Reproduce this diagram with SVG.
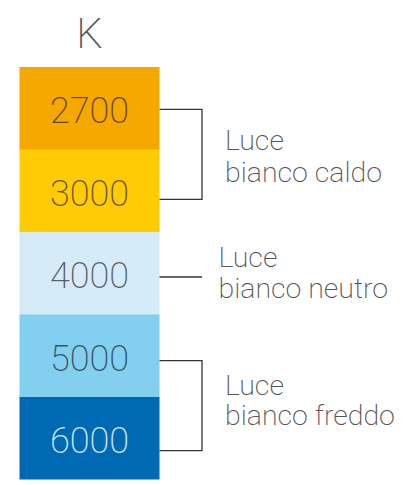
<svg xmlns="http://www.w3.org/2000/svg" width="413" height="485" viewBox="0 0 413 485">
<style>
.num{font-family:Roboto,"Liberation Sans",sans-serif;font-weight:200;font-size:36px;text-anchor:middle;fill:#000;fill-opacity:0.62}
.lbl{font-family:Roboto,"Liberation Sans",sans-serif;font-weight:200;font-size:28.5px;fill:#555}
.con{fill:none;stroke:#333;stroke-width:1.3}
</style>
<rect width="413" height="485" fill="#fff"/>
<text x="89.5" y="48" font-family="Roboto,'Liberation Sans',sans-serif" font-weight="200" font-size="42" text-anchor="middle" fill="#555">K</text>
<g id="n2700"><rect x="19.5" y="67" width="140" height="83" fill="#F5A800"/><text class="num" x="89.5" y="123">2700</text></g>
<g id="n3000"><rect x="19.5" y="149.5" width="140" height="83" fill="#FFCB05"/><text class="num" x="89.5" y="205.5">3000</text></g>
<g id="n4000"><rect x="19.5" y="232" width="140" height="83" fill="#D6EBF8"/><text class="num" x="89.5" y="288">4000</text></g>
<g id="n5000"><rect x="19.5" y="314.5" width="140" height="83" fill="#82CFF0"/><text class="num" x="89.5" y="370.5">5000</text></g>
<g id="n6000"><rect x="19.5" y="397" width="140" height="82.5" fill="#0069B4"/><text class="num" x="89.5" y="453" style="fill:#D2E6F5;fill-opacity:1">6000</text></g>
<g id="connectors">
<path class="con" d="M159.5 109.3H202V199.3H159.5"/>
<path class="con" d="M159.5 277H202"/>
<path class="con" d="M159.5 360.7H202V450.7H159.5"/>
</g>
<g id="caldo"><text class="lbl" x="225" y="150">Luce</text><text class="lbl" x="225" y="181.5">bianco caldo</text></g>
<g id="neutro"><text class="lbl" x="218.5" y="266.5">Luce</text><text class="lbl" x="218.5" y="298">bianco neutro</text></g>
<g id="freddo"><text class="lbl" x="225" y="395">Luce</text><text class="lbl" x="225" y="425">bianco freddo</text></g>
</svg>
